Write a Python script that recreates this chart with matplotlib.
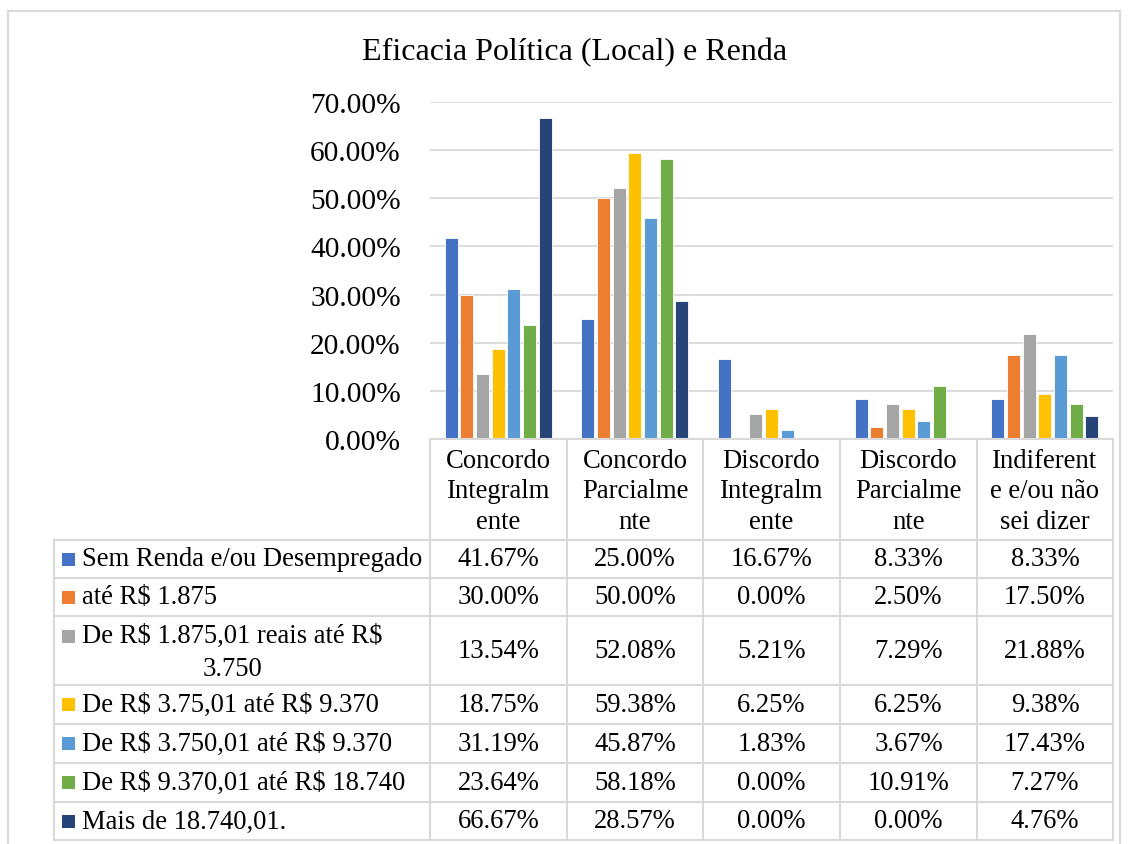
import matplotlib.pyplot as plt
from matplotlib.patches import Rectangle
from matplotlib.lines import Line2D
import numpy as np

plt.rcParams['font.family'] = ['Liberation Serif', 'DejaVu Serif']
plt.rcParams['text.parse_math'] = False

# data
title = "Eficacia Política (Local) e Renda"
categories = ["Concordo\nIntegralm\nente", "Concordo\nParcialme\nnte", "Discordo\nIntegralm\nente",
              "Discordo\nParcialme\nnte", "Indiferent\ne e/ou não\nsei dizer"]
series_names = ["Sem Renda e/ou Desempregado", "até R$ 1.875", "De R$ 1.875,01 reais até R$\n3.750",
                "De R$ 3.75,01 até R$ 9.370", "De R$ 3.750,01 até R$ 9.370",
                "De R$ 9.370,01 até R$ 18.740", "Mais de 18.740,01."]
sem_renda = [41.67, 25.00, 16.67, 8.33, 8.33]
ate_1875 = [30.00, 50.00, 0.00, 2.50, 17.50]
de_1875_3750 = [13.54, 52.08, 5.21, 7.29, 21.88]
de_375_9370 = [18.75, 59.38, 6.25, 6.25, 9.38]
de_3750_9370 = [31.19, 45.87, 1.83, 3.67, 17.43]
de_9370_18740 = [23.64, 58.18, 0.00, 10.91, 7.27]
mais_18740 = [66.67, 28.57, 0.00, 0.00, 4.76]
values = [sem_renda, ate_1875, de_1875_3750, de_375_9370, de_3750_9370, de_9370_18740, mais_18740]
colors = ["#4472C4", "#ED7D31", "#A5A5A5", "#FFC000", "#5B9BD5", "#70AD47", "#264478"]

W, H = 1129, 845
fig = plt.figure(figsize=(W / 100, H / 100), dpi=100)

def fx(x):
    return x / W

def fy(y):
    return 1 - y / H

grid_c = "#d9d9d9"

# outer chart frame
fig.patches.append(Rectangle((fx(8), fy(870)), fx(1112), 858 / H, transform=fig.transFigure,
                             fill=False, edgecolor=grid_c, linewidth=1.5))

ax_l, ax_r, ax_t, ax_b = 430, 1113, 103, 440
ax = fig.add_axes([fx(ax_l), fy(ax_b), fx(ax_r - ax_l), (ax_b - ax_t) / H])
n = len(values)
slot = 0.1148
bw = 0.095
x = np.arange(len(categories))
for i, (vals, c) in enumerate(zip(values, colors)):
    ax.bar(x + (i - (n - 1) / 2) * slot, np.array(vals) / 100, width=bw, color=c,
           edgecolor="white", linewidth=0.6, zorder=3)
ax.set_xlim(-0.5, len(categories) - 0.5)
ax.set_ylim(0, 0.70)
ticks = np.arange(0, 0.71, 0.10)
ax.set_yticks(ticks)
ax.set_yticklabels(["%.2f%%" % (v * 100) for v in ticks], fontsize=21.2)
ax.tick_params(axis="y", length=0, pad=21)
ax.set_xticks([])
ax.grid(axis="y", color=grid_c, linewidth=1.3, zorder=0)
for s in ax.spines.values():
    s.set_visible(False)
ax.patch.set_alpha(0)

fig.text(fx(575), fy(53), title, ha="center", va="center", fontsize=23)

# data table
col_edges = [430, 567, 703, 840, 977, 1113]
row_edges = [541, 579, 617, 686, 725, 764, 803, 841]
tab_left = 54
fs = 19.2

def line(x0, y0, x1, y1):
    fig.lines.append(Line2D([fx(x0), fx(x1)], [fy(y0), fy(y1)], transform=fig.transFigure,
                            color=grid_c, linewidth=1.5))

for xe in col_edges:
    line(xe, ax_b, xe, row_edges[-1])
line(tab_left, row_edges[0], tab_left, row_edges[-1])
line(ax_l, ax_b, ax_r, ax_b)
for ye in row_edges:
    line(tab_left, ye, ax_r, ye)

for j, cat in enumerate(categories):
    cx = (col_edges[j] + col_edges[j + 1]) / 2
    fig.text(fx(cx), fy(492), cat, ha="center", va="center",
             fontsize=fs, linespacing=1.27)

for i, (name, vals, c) in enumerate(zip(series_names, values, colors)):
    y0, y1 = row_edges[i], row_edges[i + 1]
    cy = (y0 + y1) / 2
    if "\n" in name:
        sq_y = y0 + 20
        ty = cy + 1.5
    else:
        sq_y = cy
        ty = cy
    fig.patches.append(Rectangle((fx(62), fy(sq_y + 6.5)), fx(13), 13 / H, transform=fig.transFigure,
                                 color=c, linewidth=0))
    fig.text(fx(82), fy(ty), name, ha="left", va="center", fontsize=fs,
             multialignment="center", linespacing=1.4)
    for j, v in enumerate(vals):
        cx = (col_edges[j] + col_edges[j + 1]) / 2
        fig.text(fx(cx), fy(cy), "%.2f%%" % v, ha="center", va="center", fontsize=fs)

fig.savefig("out.png", dpi=100)
